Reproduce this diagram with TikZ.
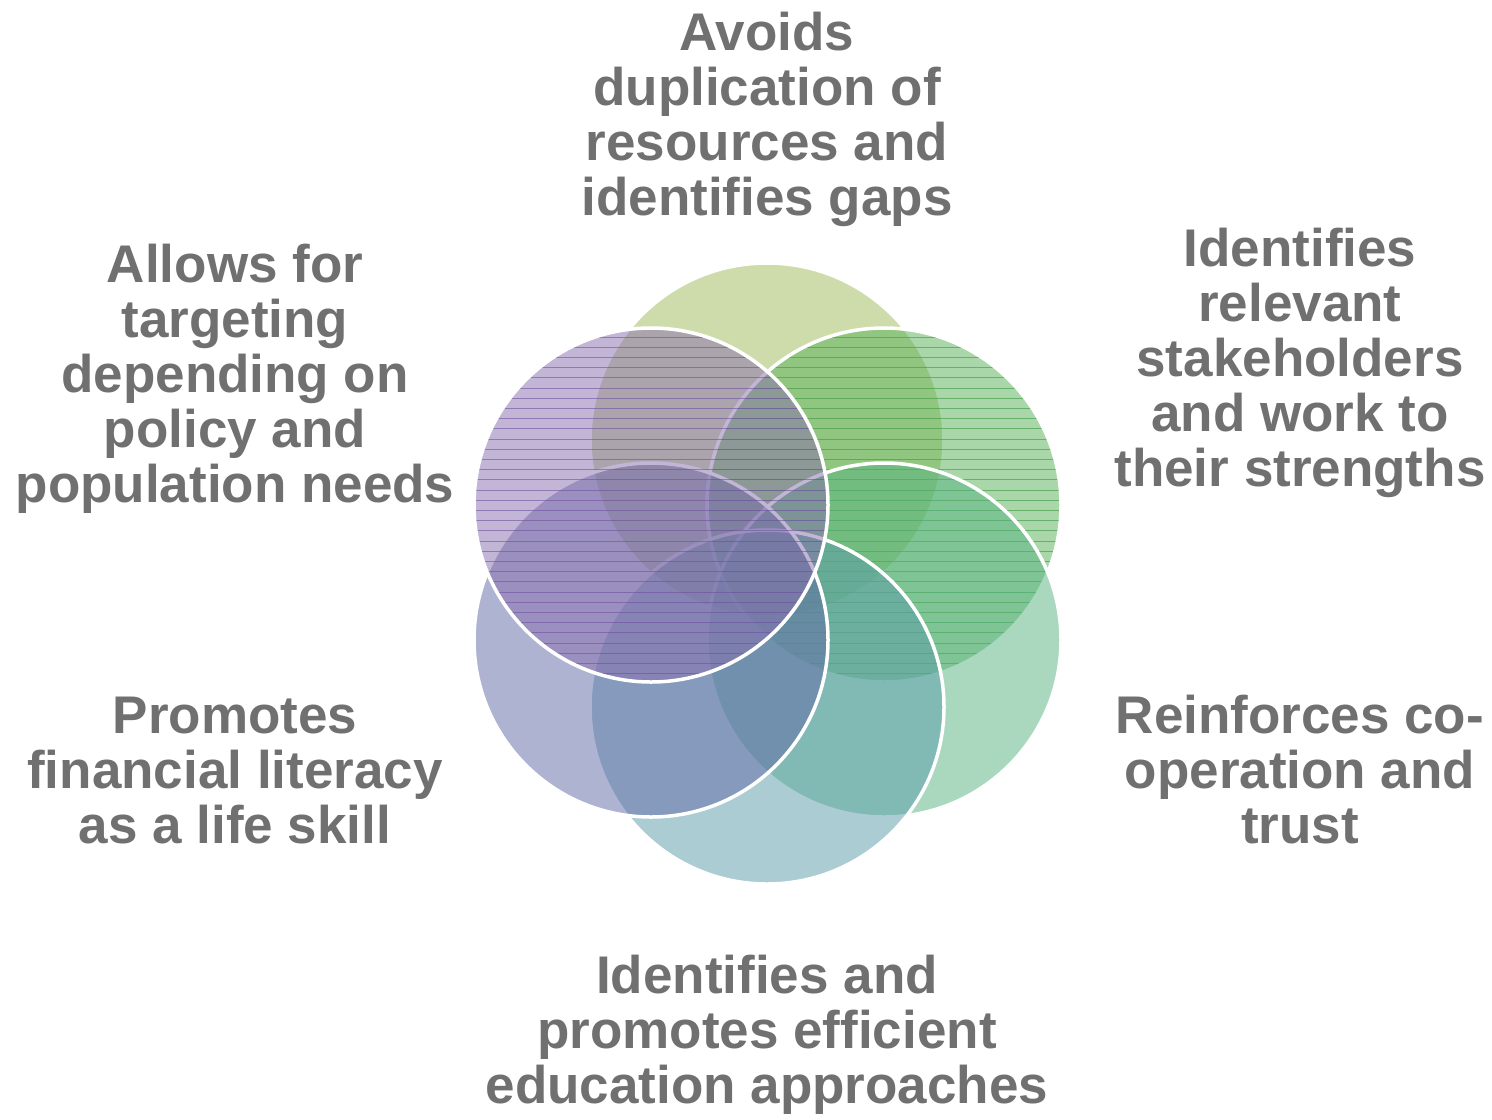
\documentclass[tikz,border=0pt]{standalone}
\usepackage{fontspec}
\setmainfont{Liberation Sans}

\definecolor{petalA}{RGB}{159,187,91}
\definecolor{petalB}{RGB}{85,177,85}
\definecolor{petalC}{RGB}{85,179,129}
\definecolor{petalD}{RGB}{91,155,171}
\definecolor{petalE}{RGB}{97,105,167}
\definecolor{petalF}{RGB}{137,109,173}
\definecolor{ruleB}{RGB}{60,150,65}
\definecolor{ruleF}{RGB}{110,80,160}
\definecolor{textgray}{RGB}{112,112,112}

\begin{document}
\begin{tikzpicture}[x=0.5pt,y=-0.5pt,
  petal/.style={circle, inner sep=0pt, minimum size=177pt,
    fill=#1, fill opacity=0.5, draw=white, line width=1.75pt},
  ruled/.style={path picture={
    \foreach \k in {-17,...,17}
      \draw[#1, line width=0.5pt, draw opacity=0.6]
        ([yshift=\k*5.1pt+2.4pt]path picture bounding box.west) --
        ([yshift=\k*5.1pt+2.4pt]path picture bounding box.east);
  }},
  benefit/.style={text=textgray, inner sep=0pt, align=center,
    font=\fontsize{26.5pt}{27.5pt}\selectfont\bfseries}
]
\fill[white] (0,0) rectangle (1492,1113);

% six overlapping petals, stacked clockwise from the top
\node[petal=petalA] (p1) at (767,440) {};
\node[petal=petalB, ruled=ruleB] (p2) at (884,505) {};
\node[petal=petalC] (p3) at (884,640) {};
\node[petal=petalD] (p4) at (767,707) {};
\node[petal=petalE] (p5) at (651,640) {};
\node[petal=petalF, ruled=ruleF] (p6) at (651,505) {};

% benefit statements around the flower
\node[benefit] (t1) at (767,121.5)
  {\strut Avoids\\\strut duplication of\\\strut resources and\\\strut identifies gaps};
\node[benefit] (t2) at (1300,365)
  {\strut Identifies\\\strut relevant\\\strut stakeholders\\\strut and work to\\\strut their strengths};
\node[benefit] (t3) at (1300,777)
  {\strut Reinforces co-\\\strut operation and\\\strut trust};
\node[benefit] (t4) at (767,1037)
  {\strut Identifies and\\\strut promotes efficient\\\strut education approaches};
\node[benefit] (t5) at (235,777)
  {\strut Promotes\\\strut financial literacy\\\strut as a life skill};
\node[benefit] (t6) at (235,381)
  {\strut Allows for\\\strut targeting\\\strut depending on\\\strut policy and\\\strut population needs};
\end{tikzpicture}
\end{document}
